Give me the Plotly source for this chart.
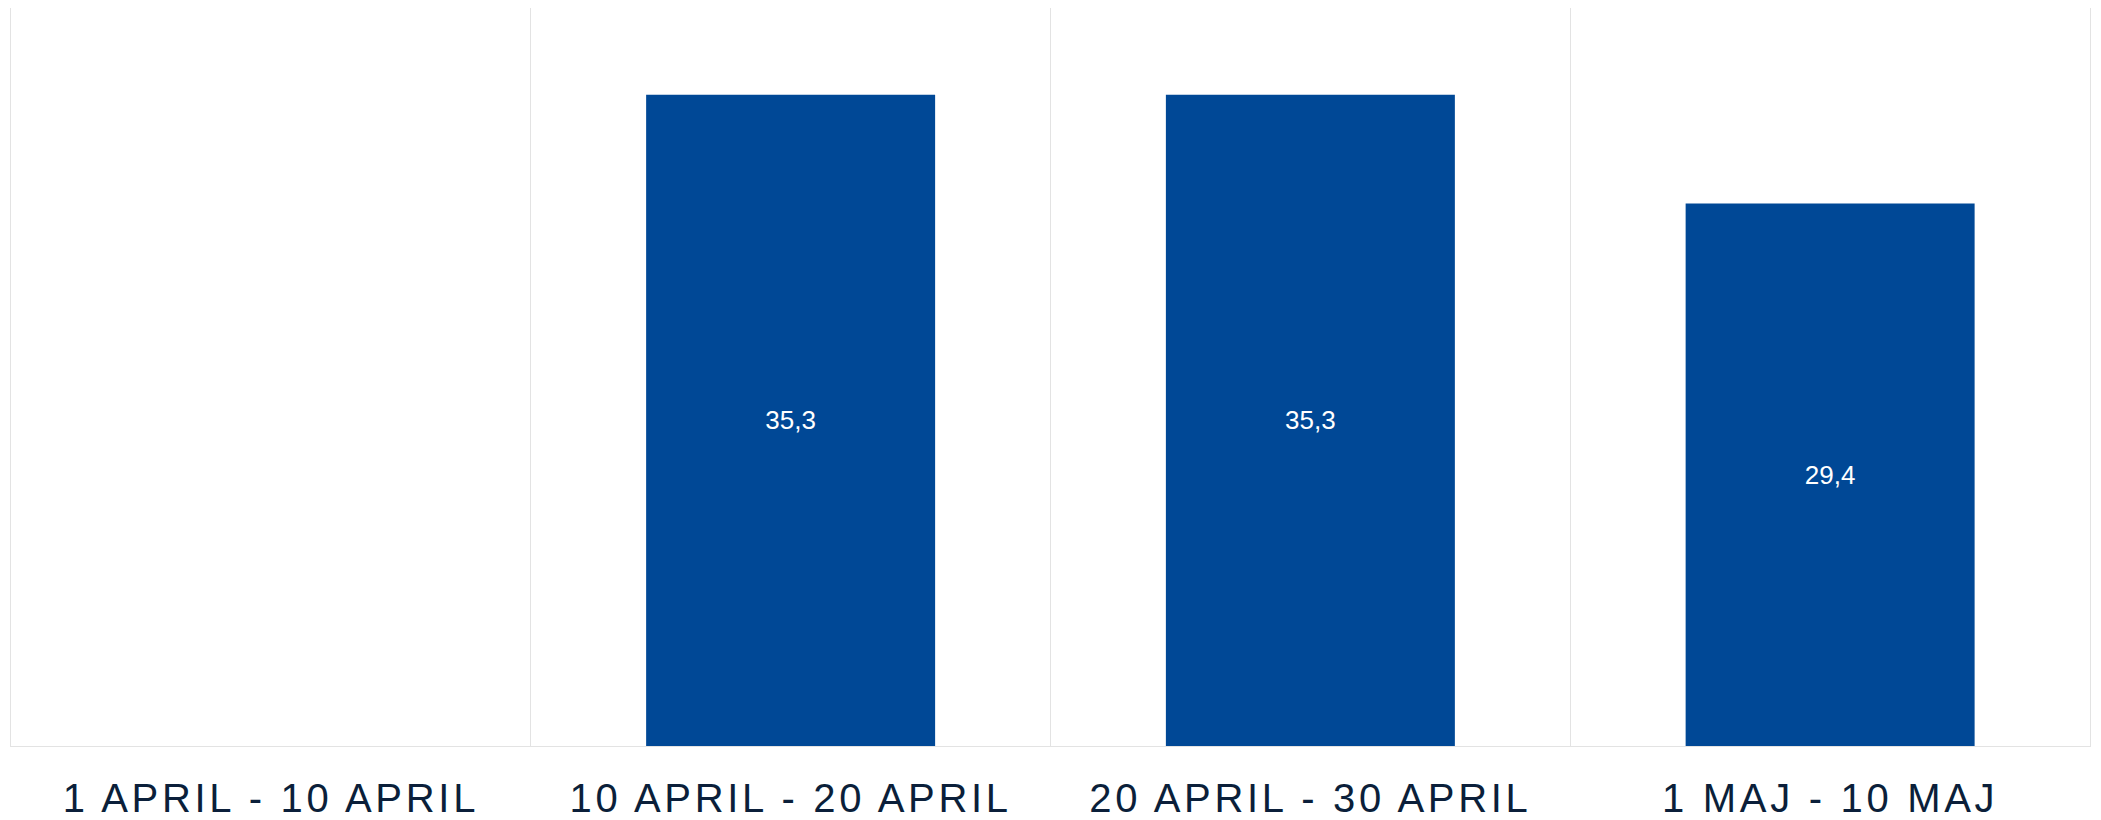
import plotly.graph_objects as go

categories = ["1 APRIL - 10 APRIL", "10 APRIL - 20 APRIL", "20 APRIL - 30 APRIL", "1 MAJ - 10 MAJ"]
values = [None, 35.3, 35.3, 29.4]

BAR_COLOR = "#004896"
GRID = "#e3e3e3"
LABEL_COLOR = "#0b1f3a"

fig = go.Figure(
    go.Bar(
        x=categories,
        y=values,
        marker=dict(color=BAR_COLOR, line=dict(width=0)),
        texttemplate="%{y:.1f}",
        textposition="inside",
        insidetextanchor="middle",
        textfont=dict(color="white", size=26, family="Liberation Sans, Arial"),
        cliponaxis=False,
        hoverinfo="skip",
    )
)

fig.update_layout(
    width=2101,
    height=820,
    margin=dict(l=11, r=11, t=8, b=74),
    paper_bgcolor="white",
    plot_bgcolor="white",
    bargap=0.444,
    separators=", ",
    showlegend=False,
    font=dict(family="Liberation Sans, Arial", color=LABEL_COLOR),
)

fig.update_xaxes(
    type="category",
    tickson="boundaries",
    showgrid=True,
    gridcolor=GRID,
    gridwidth=1,
    showline=True,
    linecolor=GRID,
    linewidth=1,
    ticks="",
    ticklabelstandoff=17,
    tickfont=dict(size=40, color=LABEL_COLOR, family="Liberation Sans, Arial"),
    automargin=False,
    fixedrange=True,
)

fig.update_yaxes(
    range=[0, 40],
    showgrid=False,
    zeroline=False,
    showticklabels=False,
    ticks="",
    showline=True,
    mirror=True,
    linecolor=GRID,
    linewidth=1,
    automargin=False,
    fixedrange=True,
)

post = """
document.body.style.margin='0';
var s=document.createElement('style');
s.textContent='.xtick text{letter-spacing:3.7px}';
document.head.appendChild(s);
"""

fig.write_html("out.html", post_script=post, config={"displayModeBar": False})
